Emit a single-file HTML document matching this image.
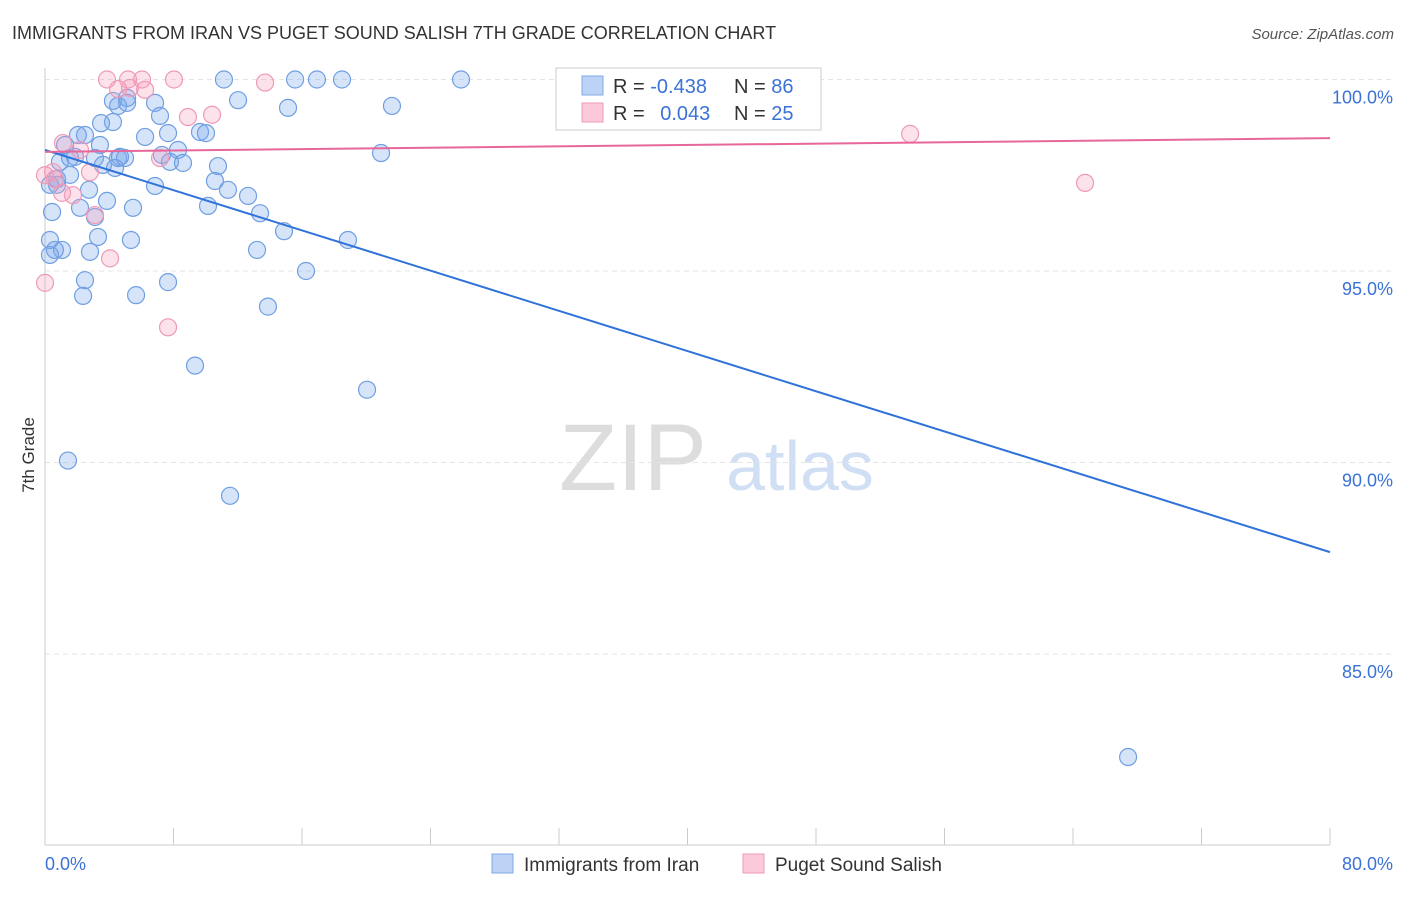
<!DOCTYPE html>
<html><head><meta charset="utf-8"><style>
body{margin:0;background:#fff;font-family:"Liberation Sans",sans-serif;}
svg text{font-family:"Liberation Sans",sans-serif;}
</style></head><body>
<svg id="c" width="1406" height="892" xmlns="http://www.w3.org/2000/svg">
<text x="12" y="39" font-size="18" fill="#333">IMMIGRANTS FROM IRAN VS PUGET SOUND SALISH 7TH GRADE CORRELATION CHART</text>
<text x="1394" y="39" font-size="15" fill="#555" font-style="italic" text-anchor="end">Source: ZipAtlas.com</text>
<text x="34" y="455" font-size="17" fill="#333" transform="rotate(-90 34 455)" text-anchor="middle">7th Grade</text>
<g><text x="633" y="490" font-size="95" fill="#ddd" font-family="Liberation Serif" text-anchor="middle">ZIP</text><text x="800" y="490" font-size="70" fill="#d0dff3" text-anchor="middle">atlas</text></g>
<g id="grid"></g><g id="axes"></g><g id="pts"></g><g id="lines"></g>
<g>
<rect x="556" y="68" width="265" height="62" fill="#fff" stroke="#ccc"/>
<rect x="582" y="76" width="21" height="19" fill="#bcd3f5" stroke="#7fa8e6"/>
<rect x="582" y="103" width="21" height="19" fill="#fbc9d9" stroke="#ef9ab7"/>
<text x="613" y="93" font-size="20" fill="#333">R = <tspan fill="#3a72d6">-0.438</tspan></text>
<text x="734" y="93" font-size="20" fill="#333">N = <tspan fill="#3a72d6">86</tspan></text>
<text x="613" y="120" font-size="20" fill="#333">R = <tspan fill="#3a72d6" dx="10">0.043</tspan></text>
<text x="734" y="120" font-size="20" fill="#333">N = <tspan fill="#3a72d6">25</tspan></text>
</g>
<g>
<rect x="492" y="854" width="21" height="19" fill="#bcd3f5" stroke="#7fa8e6"/>
<text x="524" y="871" font-size="19" fill="#333">Immigrants from Iran</text>
<rect x="743" y="854" width="21" height="19" fill="#fbc9d9" stroke="#ef9ab7"/>
<text x="775" y="871" font-size="19" fill="#333">Puget Sound Salish</text>
</g>
</svg>
<script>
const yTicks=[100,95,90,85];
const yTickLabels=["100.0%","95.0%","90.0%","85.0%"];
const xTickLabels=["0.0%","80.0%"];
const iranX=[11.14,15.57,16.93,18.49,25.90,12.02,15.13,21.60,6.85,4.23,5.11,4.55,5.11,7.16,4.23,3.49,6.23,7.66,9.65,10.02,2.05,2.49,3.42,1.25,0.93,1.56,1.87,3.11,4.55,4.98,4.67,3.61,4.36,7.28,7.78,8.28,8.59,10.77,20.92,0.75,1.56,0.31,2.74,6.85,10.58,11.39,12.64,3.86,5.48,2.18,10.15,0.44,3.11,13.39,14.88,3.30,5.35,18.86,0.31,1.06,2.80,13.20,16.25,2.49,7.66,2.37,5.67,13.88,9.34,20.05,1.43,11.52,67.43,0.31,0.62,0.75];
const iranY=[100,100,100,100,100,99.46,99.26,99.31,99.39,99.44,99.52,99.31,99.39,99.05,98.89,98.86,98.50,98.60,98.63,98.60,98.55,98.55,98.29,98.29,97.85,97.95,97.98,97.95,97.95,97.95,97.98,97.77,97.69,98.03,97.85,98.16,97.82,97.74,98.08,97.40,97.51,97.25,97.12,97.22,97.35,97.12,96.96,96.83,96.65,96.65,96.70,96.54,96.41,96.51,96.04,95.89,95.81,95.81,95.81,95.55,95.50,95.55,95.00,94.76,94.71,94.35,94.37,94.07,92.53,91.90,90.05,89.13,82.31,95.42,95.55,97.25];
const salishX=[3.86,5.17,6.04,8.03,13.7,5.29,6.23,4.55,8.9,10.4,1.12,2.18,7.16,2.8,0.5,0.62,1.74,3.11,4.05,7.66,0,53.86,64.75,1.06,0];
const salishY=[100,100,100,100,99.92,99.78,99.73,99.75,99.02,99.08,98.34,98.16,97.95,97.58,97.58,97.40,96.98,96.46,95.33,93.53,94.69,98.58,97.30,97.04,97.50];
const iranLine=[98.16,87.66];
const salishLine=[98.11,98.47];
const X=v=>45+v/80*1285, Y=v=>79.5+(100-v)*38.3;
const NS="http://www.w3.org/2000/svg";
function mk(t,a,p){const e=document.createElementNS(NS,t);for(const k in a)e.setAttribute(k,a[k]);document.getElementById(p).appendChild(e);return e;}
yTicks.forEach((v,i)=>{
 const l=mk('line',{x1:45,x2:1394,y1:Y(v),y2:Y(v),stroke:'#e4e4e4','stroke-dasharray':'5,4'},'grid');
 
 
 const t=mk('text',{x:1393,y:Y(v)+24,'font-size':18,fill:'#3a72d6','text-anchor':'end'},'grid');t.textContent=yTickLabels[i];
 
 
});
const ax=mk('line',{x1:45,x2:45,y1:68,y2:845,stroke:'#ccc'},'axes');


const bx=mk('line',{x1:45,x2:1330,y1:845,y2:845,stroke:'#ccc'},'axes');


for(let i=0;i<=10;i++){const t=mk('line',{x1:X(i*8),x2:X(i*8),y1:828,y2:845,stroke:'#ccc'},'axes');
 
 }
[[0,'start',45],[80,'end',1393]].forEach((d,i)=>{const t=mk('text',{x:d[2],y:870,'font-size':18,fill:'#3a72d6','text-anchor':d[1]},'axes');t.textContent=xTickLabels[i];
 
 });
iranX.forEach((v,i)=>{const c=mk('circle',{cx:X(v),cy:Y(iranY[i]),r:8.5,fill:'rgba(120,165,235,0.3)',stroke:'#6f9fe2','stroke-width':1.2},'pts');
 
 });
salishX.forEach((v,i)=>{const c=mk('circle',{cx:X(v),cy:Y(salishY[i]),r:8.5,fill:'rgba(245,160,190,0.3)',stroke:'#ee9ab7','stroke-width':1.2},'pts');
 
 });
const l1=mk('line',{x1:X(0),y1:Y(iranLine[0]),x2:X(80),y2:Y(iranLine[1]),stroke:'#2f72d9','stroke-width':2},'lines');


const l2=mk('line',{x1:X(0),y1:Y(salishLine[0]),x2:X(80),y2:Y(salishLine[1]),stroke:'#e8679a','stroke-width':2},'lines');


</script>
</body></html>
